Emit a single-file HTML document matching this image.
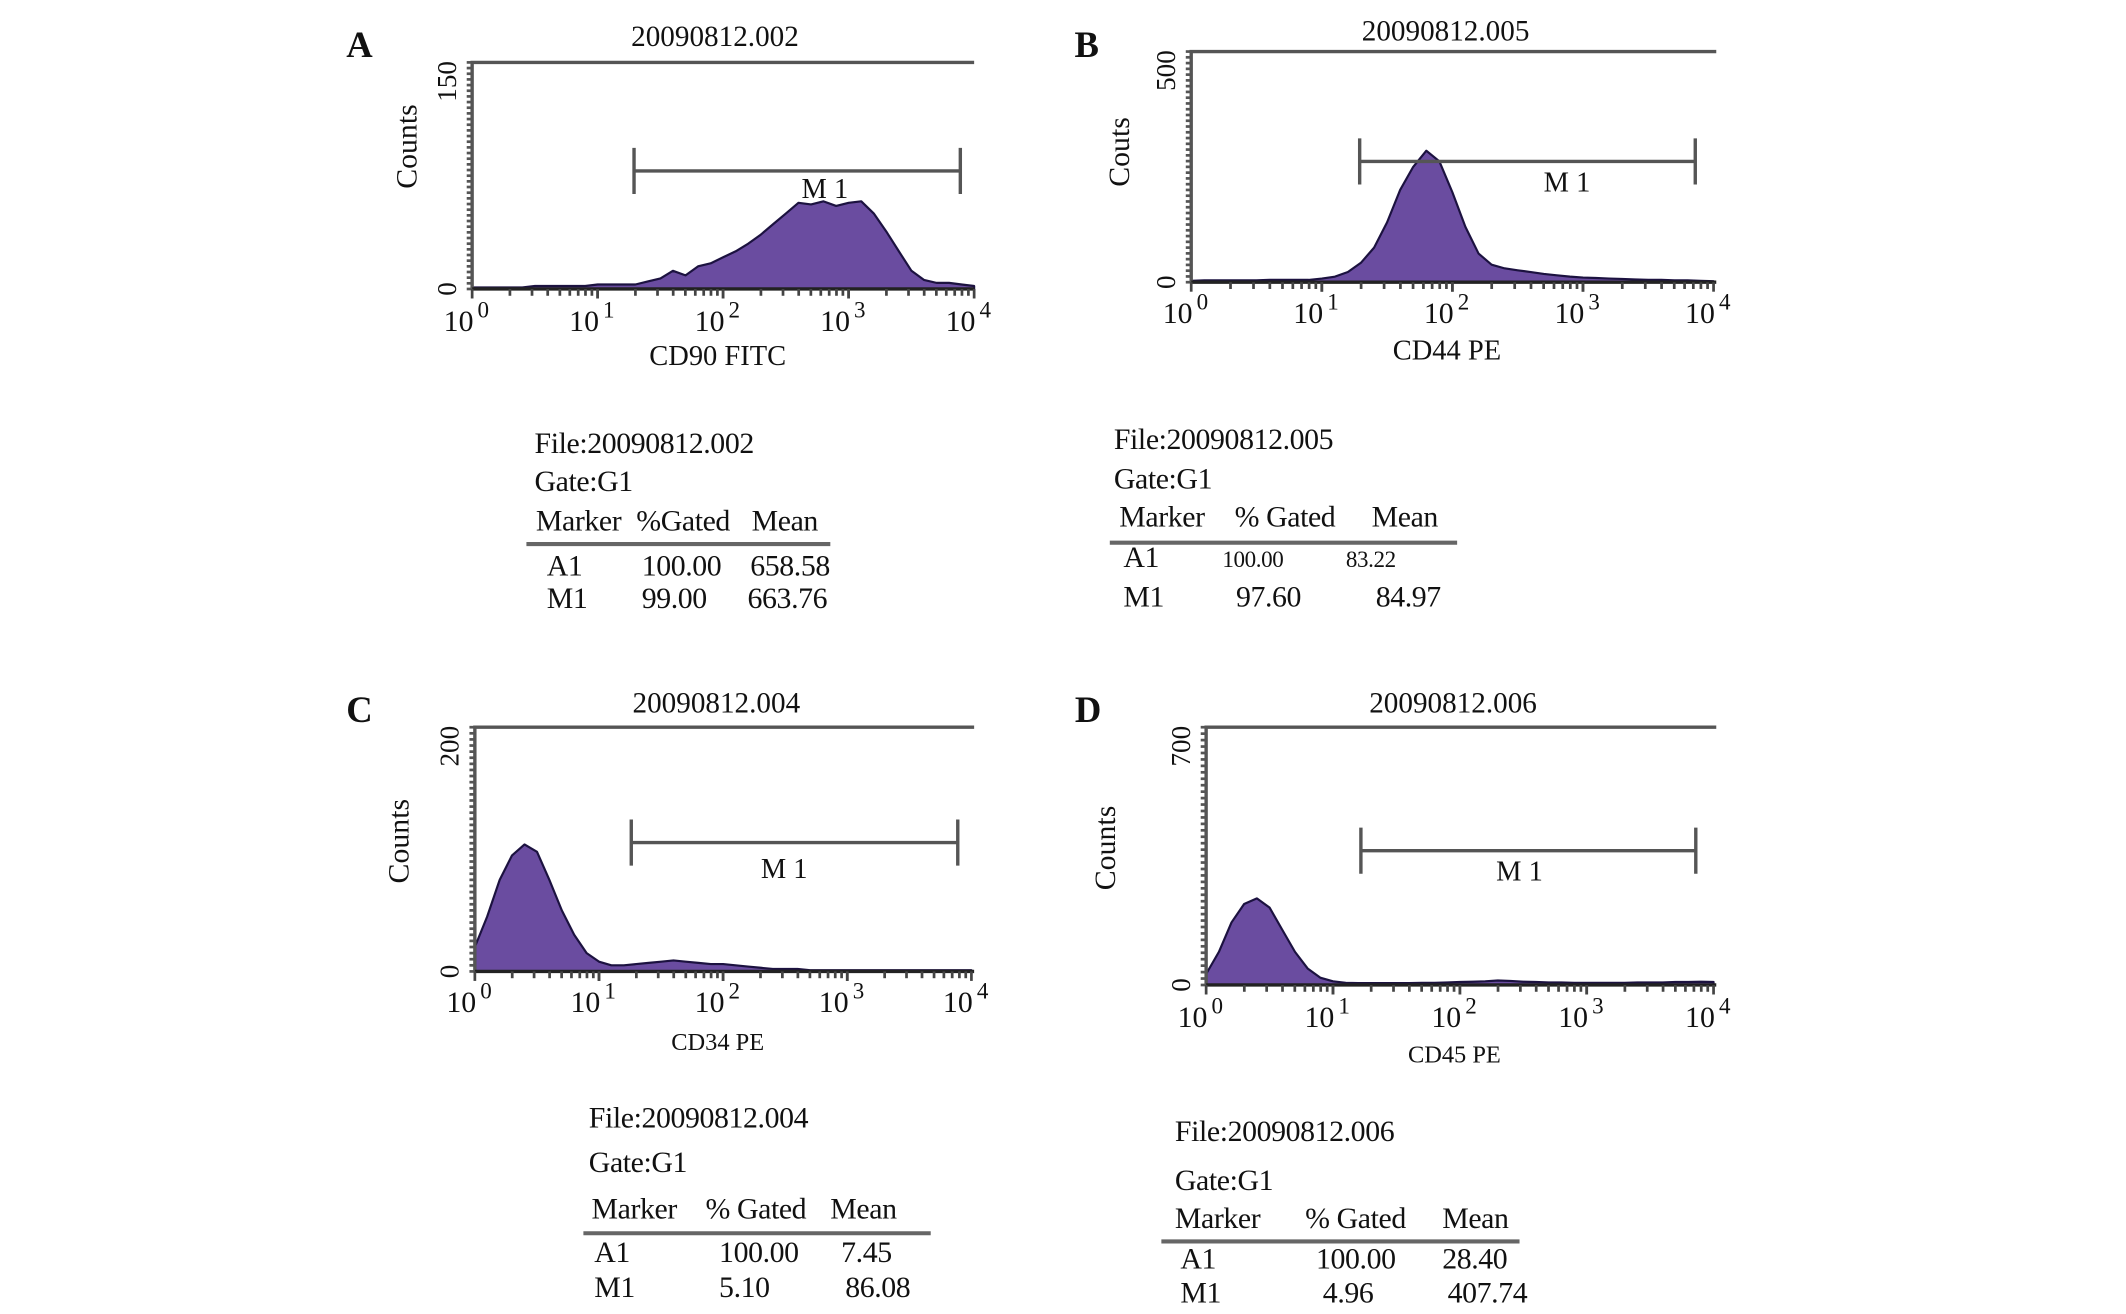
<!DOCTYPE html>
<html><head><meta charset="utf-8"><style>
html,body{margin:0;padding:0;background:#fff;}
svg{display:block;}
text{font-family:"Liberation Serif",serif;fill:#111;}
</style></head><body>
<svg id="fig" width="2126" height="1314" viewBox="0 0 1567 968.5" preserveAspectRatio="none" xmlns="http://www.w3.org/2000/svg"></svg>
<script>
// Log-decade positions 0.0..4.0 step 0.1 (41 bins)
const binsLog = [0,0.1,0.2,0.3,0.4,0.5,0.6,0.7,0.8,0.9,1,1.1,1.2,1.3,1.4,1.5,1.6,1.7,1.8,1.9,2,2.1,2.2,2.3,2.4,2.5,2.6,2.7,2.8,2.9,3,3.1,3.2,3.3,3.4,3.5,3.6,3.7,3.8,3.9,4];
const countsA = [1,1,1,1,1,2,2,2,2,2,3,3,3,3,5,7,12,9,15,17,21,25,30,36,43,50,57,56,58,55,57,58,50,38,25,12,6,4,4,3,2];
const countsB = [3,4,4,4,4,4,5,5,5,5,8,12,22,42,75,130,200,250,285,262,195,120,62,38,30,26,22,18,15,12,10,9,8,7,6,5,5,4,4,3,2];
const countsC = [20,45,75,95,104,98,75,50,30,15,8,5,5,6,7,8,9,8,7,6,6,5,4,3,2,2,2,1,1,1,1,1,1,1,1,1,1,1,1,1,1];
const countsD = [30,90,170,220,235,210,150,90,45,20,10,6,5,5,5,5,5,6,6,7,8,9,10,12,11,9,8,7,7,6,6,6,6,6,7,7,7,8,8,9,8];
const yMaxLabels = ["150","500","200","700"];
const yMaxValues = [150,500,200,700];
const decadeLabels = ["0","1","2","3","4"];
const titles = ["20090812.002","20090812.005","20090812.004","20090812.006"];
const xTitles = ["CD90 FITC","CD44 PE","CD34  PE","CD45 PE"];
const yTitles = ["Counts","Couts","Counts","Counts"];
const gateStart = [1.29,1.29,1.26,1.22];
const gateEnd = [3.89,3.86,3.89,3.86];

const NS="http://www.w3.org/2000/svg";
const svg=document.getElementById('fig');
function mk(tag,attrs,parent,txt){const e=document.createElementNS(NS,tag);for(const k in attrs)e.setAttribute(k,attrs[k]);if(txt!==undefined)e.textContent=txt;(parent||svg).appendChild(e);return e;}

const panels=[
 {L:'A',lx:265,ly:42,x0:348,x1:718,top:46,base:213,right:718,tY:34,mY:126,mLy:146,mLx:608,yl:300,ylY:108,tickY:244,xtY:269,xtFs:21,counts:countsA},
 {L:'B',lx:801,ly:42,x0:878,x1:1263,top:38,base:208,right:1265,tY:30,mY:119,mLy:141,mLx:1155,yl:825,ylY:112,tickY:238,xtY:265,xtFs:21,counts:countsB},
 {L:'C',lx:265,ly:532,x0:350,x1:716,top:536,base:716,right:718,tY:525,mY:621,mLy:647,mLx:578,yl:294,ylY:620,tickY:746,xtY:774,xtFs:18,counts:countsC},
 {L:'D',lx:802,ly:532,x0:889,x1:1263,top:536,base:726,right:1265,tY:525,mY:627,mLy:649,mLx:1120,yl:815,ylY:625,tickY:757,xtY:783,xtFs:18,counts:countsD}
];

panels.forEach((p,i)=>{
 const g=mk('g',{});
 
 
 const xs=v=>p.x0+(p.x1-p.x0)*v/4;
 const ys=v=>p.base-(p.base-p.top)*v/yMaxValues[i];
 const lt=mk('text',{x:p.lx,y:p.ly,'font-size':27,'font-weight':'bold','text-anchor':'middle'},g,p.L);
  
 const tt=mk('text',{x:(p.x0+p.right)/2-6,y:p.tY,'font-size':21.5,'text-anchor':'middle'},g,titles[i]);
  
 let d='M'+xs(0)+','+p.base;
 binsLog.forEach((b,k)=>{d+=' L'+xs(b).toFixed(1)+','+ys(p.counts[k]).toFixed(1);});
 d+=' L'+xs(4)+','+p.base+' Z';
 const h=mk('path',{d:d,fill:'#6a4ca0',stroke:'#1c1240','stroke-width':1.6,'stroke-linejoin':'round'},g);
  
 const ax=mk('path',{d:`M${p.x0},${p.base} L${p.x0},${p.top} L${p.right},${p.top}`,fill:'none',stroke:'#555',"stroke-width":2.5},g);
  
 const xa=mk('line',{x1:p.x0,y1:p.base,x2:p.right,y2:p.base,stroke:'#222','stroke-width':2.5},g);
  
 for(let k=0;k<=40;k++){const y=p.top+(p.base-p.top)*k/40;mk('line',{x1:p.x0-4,y1:y,x2:p.x0,y2:y,stroke:'#555','stroke-width':2},g);}
 for(let dcd=0;dcd<4;dcd++){for(let m=1;m<=10;m++){const x=xs(dcd+Math.log10(m));mk('line',{x1:x,y1:p.base,x2:x,y2:p.base+(m===1||m===10?7:5),stroke:'#444','stroke-width':2},g);}}
 decadeLabels.forEach((lab,k)=>{
  const x=xs(k);
  const t=mk('text',{x:x-10,y:p.tickY,'font-size':22,'text-anchor':'middle'},g,'10');
   
  mk('text',{x:x+4,y:p.tickY-10,'font-size':17},g,lab);
 });
 const y0=mk('text',{'font-size':20,'text-anchor':'middle',transform:`translate(${p.x0-12},${p.base}) rotate(-90)`},g,'0');
  
 const ym=mk('text',{'font-size':20,'text-anchor':'middle',transform:`translate(${p.x0-12},${p.top+14}) rotate(-90)`},g,yMaxLabels[i]);
  
 const yt=mk('text',{'font-size':22,'text-anchor':'middle',transform:`translate(${p.yl+7},${p.ylY}) rotate(-90)`},g,yTitles[i]);
  
 const xt=mk('text',{x:xs(2)-4,y:p.xtY,'font-size':p.xtFs,'text-anchor':'middle'},g,xTitles[i]);
  
 const gx0=xs(gateStart[i]),gx1=xs(gateEnd[i]);
 const gm=mk('path',{d:`M${gx0},${p.mY} L${gx1},${p.mY} M${gx0},${p.mY-17} L${gx0},${p.mY+17} M${gx1},${p.mY-17} L${gx1},${p.mY+17}`,stroke:'#555','stroke-width':2.5,fill:'none'},g);
  
 const ml=mk('text',{x:p.mLx,y:p.mLy,'font-size':21,'text-anchor':'middle'},g,'M 1');
  
});

const stats=[
 {fx:394,fy:334,gy:362,hy:391,ly:401,lx0:388,lx1:612,r1:424,r2:448,cols:[395,469,554],vc:[403,473,553],small:false,
  hdr:["Marker","%Gated","Mean"],file:"File:20090812.002",a1:["A1","100.00","658.58"],m1:["M1","99.00","663.76"],m1c:[403,473,551]},
 {fx:821,fy:331,gy:360,hy:388,ly:400,lx0:818,lx1:1074,r1:418,r2:447,cols:[825,910,1011],vc:[828,901,992],small:true,
  hdr:["Marker","% Gated","Mean"],file:"File:20090812.005",a1:["A1","100.00","83.22"],m1:["M1","97.60","84.97"],m1c:[828,911,1014]},
 {fx:434,fy:831,gy:864,hy:898,ly:909,lx0:430,lx1:686,r1:930,r2:956,cols:[436,520,612],vc:[438,530,620],small:false,
  hdr:["Marker","% Gated","Mean"],file:"File:20090812.004",a1:["A1","100.00","7.45"],m1:["M1","5.10","86.08"],m1c:[438,530,623]},
 {fx:866,fy:841,gy:877,hy:905,ly:915,lx0:856,lx1:1120,r1:935,r2:960,cols:[866,962,1063],vc:[870,970,1063],small:false,
  hdr:["Marker","% Gated","Mean"],file:"File:20090812.006",a1:["A1","100.00","28.40"],m1:["M1","4.96","407.74"],m1c:[870,975,1067]}
];
stats.forEach((s,i)=>{
 const g=mk('g',{});
 
 
 const f=mk('text',{x:s.fx,y:s.fy,'font-size':22,'letter-spacing':'-0.3'},g,s.file);
  
 const gt=mk('text',{x:s.fx,y:s.gy,'font-size':22,'letter-spacing':'-0.3'},g,'Gate:G1');
  
 s.hdr.forEach((h,k)=>{const t=mk('text',{x:s.cols[k],y:s.hy,'font-size':22,'letter-spacing':'-0.3'},g,h);
   });
 const ln=mk('line',{x1:s.lx0,y1:s.ly,x2:s.lx1,y2:s.ly,stroke:'#666','stroke-width':3},g);
  
 s.a1.forEach((v,k)=>{const t=mk('text',{x:s.vc[k],y:s.r1,'font-size':(s.small&&k>0)?17:22,'letter-spacing':'-0.3'},g,v);
   });
 s.m1.forEach((v,k)=>{const t=mk('text',{x:s.m1c[k],y:s.r2,'font-size':22,'letter-spacing':'-0.3'},g,v);
   });
});
</script>
</body></html>
